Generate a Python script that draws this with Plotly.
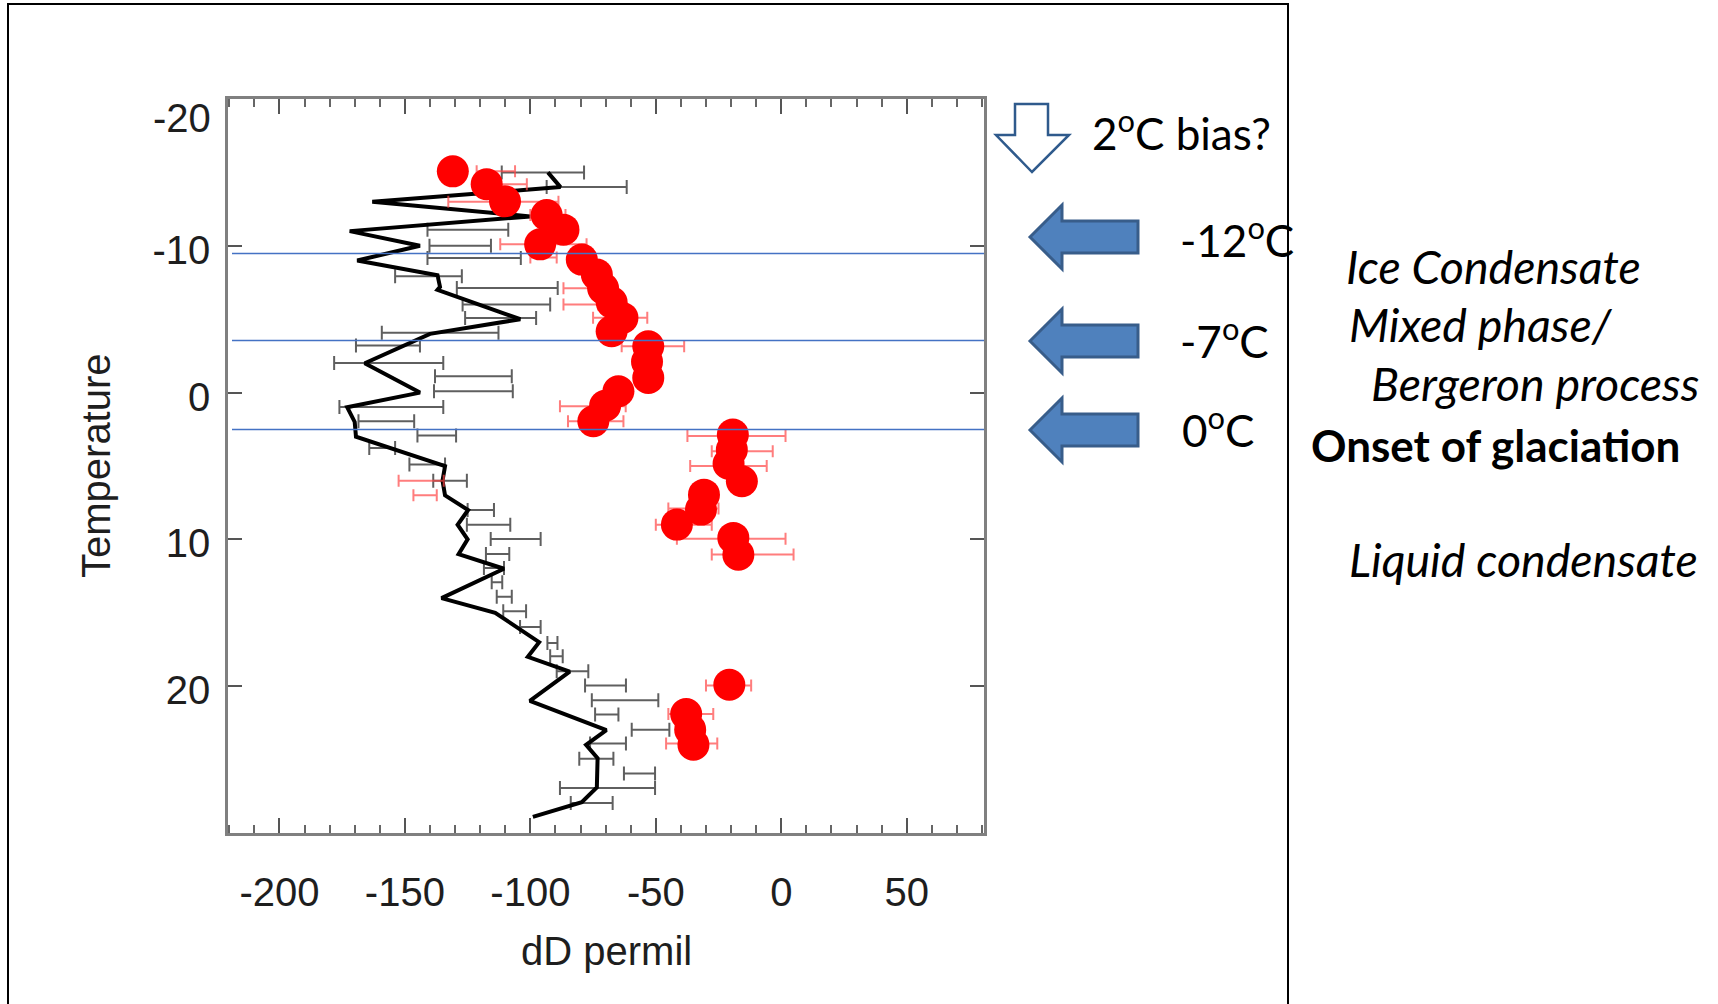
import plotly.graph_objects as go

# ---- profile data -------------------------------------------------------
# black model profile: temperature (deg C) and dD (permil) at its vertices
line_temp = [-15.0, -14.0, -13.0, -12.0, -11.0, -10.0, -9.0, -8.0, -7.2, -7.0,
             -5.0, -4.0, -2.0, 0.0, 1.0, 2.0, 3.0, 5.0, 6.0, 7.0, 8.0, 9.0,
             10.0, 11.0, 12.0, 14.0, 15.0, 16.5, 17.0, 18.0, 19.0, 21.0,
             23.0, 24.0, 24.9, 26.9, 27.9, 28.9]
line_dD = [-93, -88, -163, -100, -172, -144, -169, -137, -136, -137,
           -104, -140, -166, -144, -173, -170, -169.5, -134, -135, -134, -124.8, -129,
           -125, -128.6, -110.5, -135.4, -114, -101, -96.5, -101, -84.3, -100.2,
           -69.7, -77.8, -73.2, -73.5, -79.5, -99]

# grey ranges around the profile
gbar_temp = [-15.0, -14.0, -11.1, -10.0, -9.17, -7.92, -7.13, -6.0, -5.09, -4.07,
             -3.2, -2.02, -1.11, -0.09, 0.98, 1.95, 2.93, 3.77, 4.9, 6.0,
             8.0, 9.0, 9.97, 11.0, 11.94, 12.92, 13.9, 14.9, 15.96, 17.05,
             17.96, 18.98, 19.96, 20.96, 21.93, 22.96, 23.9, 24.95, 25.95, 26.93, 27.95]
gbar_lo = [-111.4, -93.5, -141, -140.2, -141, -153.9, -129.3, -127, -126, -159.2,
           -169.5, -178.2, -138, -138.4, -176.1, -168.5, -145, -164.2, -148.2, -138.7,
           -125, -125.3, -115.8, -117.7, -118.5, -115.4, -113.4, -110.8, -104.1, -93.2,
           -92.1, -89.5, -78.2, -75.5, -74.2, -59.6, -76.2, -80.5, -62.7, -88.2, -83.9]
gbar_hi = [-78.6, -61.6, -108.8, -115.7, -103.8, -127.3, -89.1, -92.1, -97.7, -112.7,
           -144, -134.7, -107.4, -107, -134.7, -146.3, -129.6, -153.9, -134, -125.3,
           -114.5, -108, -95.9, -108.4, -110.5, -111.2, -107.4, -101.7, -95.9, -89.2,
           -87.1, -76.9, -61.9, -49, -64.9, -44.6, -61.9, -66.9, -50.3, -50.3, -67.2]

# red observations
dot_temp = [-15.07, -14.2, -13.03, -12.1, -11.1, -10.1, -9.06, -8.04, -7.1, -6.15,
            -5.09, -4.18, -3.15, -2.1, -1.0, -0.09, 0.9, 1.95, 2.86, 3.9,
            4.85, 6.04, 6.95, 7.97, 8.99, 9.9, 11.04, 19.9, 21.9, 22.96, 23.98]
dot_dD = [-130.9, -117.4, -110.1, -93.5, -86.8, -96.1, -79.5, -73.5, -71, -67.6,
          -63.3, -67.6, -53, -53.5, -53, -64.9, -70.2, -74.9, -19.3, -19.7,
          -21, -15.7, -30.8, -32, -41.6, -19.1, -17.1, -20.7, -37.9, -36.3, -35]

# red ranges
rbar_temp = [-15.07, -14.2, -13.0, -12.1, -10.1, -9.2, -7.1, -6.0, -5.1, -3.15,
             0.93, 1.95, 2.95, 4.0, 5.0, 6.0, 7.0, 7.9, 9.0, 9.95,
             11.03, 19.95, 21.9, 23.9]
rbar_lo = [-121.4, -121, -132.7, -100, -112, -100, -86.8, -86.8, -75, -63.6,
           -88.2, -85, -37.4, -27.7, -36.3, -152.5, -146.6, -45, -50, -41.6,
           -27.7, -30, -45, -45.9]
rbar_hi = [-106.1, -101.4, -88.8, -86, -77.6, -89.5, -75, -73, -53.4, -38.7,
           -62, -62.9, 1.7, -3.4, -5.8, -134.5, -137.3, -25, -27.7, 1.7,
           4.9, -12, -27.1, -25.5]

# temperature levels marked across the panel
level_temp = [-9.48, -3.55, 2.51]

x_ticks = [-200, -150, -100, -50, 0, 50]
y_ticks = [-20, -10, 0, 10, 20]

# ---- page geometry (pixels) ---------------------------------------------
W, H = 1718, 1004
PL, PR, PT, PB = 228, 984, 99, 833


def fx(px):
    return (px - PL) / (PR - PL)


def fy(py):
    return (PB - py) / (PB - PT)


def mid_half(lo, hi):
    mids = [(a + b) / 2 for a, b in zip(lo, hi)]
    halves = [(b - a) / 2 for a, b in zip(lo, hi)]
    return mids, halves


fig = go.Figure()

g_mid, g_half = mid_half(gbar_lo, gbar_hi)
fig.add_trace(go.Scatter(
    x=g_mid, y=gbar_temp, mode="markers",
    marker=dict(size=1, color="rgba(0,0,0,0)"),
    error_x=dict(type="data", array=g_half, symmetric=True,
                 color="rgba(55,55,55,0.8)", thickness=2, width=7),
    hoverinfo="skip"))

fig.add_trace(go.Scatter(
    x=line_dD, y=line_temp, mode="lines",
    line=dict(color="black", width=4), hoverinfo="skip"))

r_mid, r_half = mid_half(rbar_lo, rbar_hi)
fig.add_trace(go.Scatter(
    x=r_mid, y=rbar_temp, mode="markers",
    marker=dict(size=1, color="rgba(0,0,0,0)"),
    error_x=dict(type="data", array=r_half, symmetric=True,
                 color="rgba(255,70,70,0.7)", thickness=2, width=6),
    hoverinfo="skip"))

fig.add_trace(go.Scatter(
    x=dot_dD, y=dot_temp, mode="markers",
    marker=dict(size=32, color="#ff0000", line=dict(width=0)),
    hoverinfo="skip"))

axis_font = dict(family="Liberation Sans, Arial, sans-serif", size=40, color="#1e1e1e")

fig.update_xaxes(
    range=[-220.5, 80.8], tickvals=x_ticks, ticktext=[str(v) for v in x_ticks],
    ticks="inside", ticklen=15, tickwidth=2, tickcolor="#555555",
    minor=dict(dtick=10, tick0=0, ticks="inside", ticklen=8, tickwidth=1.5, tickcolor="#666666"),
    showline=True, linecolor="#808080", linewidth=2.5, mirror="ticks",
    showgrid=False, zeroline=False, tickfont=axis_font, ticklabelstandoff=22)

# the top label of the temperature axis sits a little below its tick
y_text = ["" if v == y_ticks[0] else str(v) for v in y_ticks]
fig.update_yaxes(
    range=[30, -20], tickvals=y_ticks, ticktext=y_text,
    ticks="inside", ticklen=14, tickwidth=2, tickcolor="#555555",
    showline=True, linecolor="#808080", linewidth=2.5, mirror="ticks",
    showgrid=False, zeroline=False, tickfont=axis_font, ticklabelstandoff=7,
    ticklabelshift=-4)

shapes = []

# frame around the panel
shapes.append(dict(type="path", xref="paper", yref="paper",
                   path=f"M {fx(8)},{fy(1030)} L {fx(8)},{fy(4)} L {fx(1288)},{fy(4)} L {fx(1288)},{fy(1030)}",
                   line=dict(color="black", width=2)))

# temperature level lines
for t in level_temp:
    shapes.append(dict(type="line", xref="paper", yref="y", x0=fx(232), x1=1.0,
                       y0=t, y1=t, line=dict(color="#4472c4", width=1.5), layer="above"))


# block arrows pointing left
def left_arrow(cy):
    tip, base, end = 1030, 1062, 1138
    hh, sh = 32, 16
    pts = [(tip, cy), (base, cy - hh), (base, cy - sh), (end, cy - sh),
           (end, cy + sh), (base, cy + sh), (base, cy + hh)]
    return "M " + " L ".join(f"{fx(x)},{fy(y)}" for x, y in pts) + " Z"


for cy in [237, 341, 430]:
    shapes.append(dict(type="path", xref="paper", yref="paper", path=left_arrow(cy),
                       fillcolor="#4f81bd", line=dict(color="#385d8a", width=3)))

# hollow arrow pointing down
down_pts = [(1015, 104), (1048, 104), (1048, 135), (1069, 135), (1032, 172),
            (996, 135), (1015, 135)]
shapes.append(dict(type="path", xref="paper", yref="paper",
                   path="M " + " L ".join(f"{fx(x)},{fy(y)}" for x, y in down_pts) + " Z",
                   fillcolor="white", line=dict(color="#2f5a8c", width=2.5)))

note_font = dict(family="Lato, Carlito, sans-serif", size=44, color="black")
italic_font = dict(family="Lato, Carlito, sans-serif", size=46.5, color="black")

notes = [
    ("2<sup>o</sup>C bias?", 1090, 131, note_font),
    ("-12<sup>o</sup>C", 1178, 238, note_font),
    ("-7<sup>o</sup>C", 1178, 338, note_font),
    ("0<sup>o</sup>C", 1180, 427, note_font),
    ("<i>Ice Condensate</i>", 1344, 266, italic_font),
    ("<i>Mixed phase/</i>", 1347, 324, italic_font),
    ("<i>Bergeron process</i>", 1369, 383, italic_font),
    ("<b>Onset of glaciation</b>", 1309, 445, note_font),
    ("<i>Liquid condensate</i>", 1347, 559, italic_font),
]
annotations = []
for text, px, py, fnt in notes:
    annotations.append(dict(text=text, xref="paper", yref="paper", x=fx(px), y=fy(py),
                            xanchor="left", yanchor="middle", showarrow=False, font=fnt))

annotations.append(dict(text=str(y_ticks[0]), xref="paper", yref="paper", x=fx(213), y=fy(118),
                        xanchor="right", yanchor="middle", showarrow=False, font=axis_font))
annotations.append(dict(text="dD permil", xref="paper", yref="paper", x=fx(606), y=fy(951),
                        xanchor="center", yanchor="middle", showarrow=False, font=axis_font))
annotations.append(dict(text="Temperature", xref="paper", yref="paper", x=fx(96), y=fy(466),
                        xanchor="center", yanchor="middle", showarrow=False, textangle=-90,
                        font=axis_font))

fig.update_layout(
    width=W, height=H, autosize=False,
    margin=dict(l=PL, r=W - PR, t=PT, b=H - PB, pad=0),
    paper_bgcolor="white", plot_bgcolor="white",
    showlegend=False, shapes=shapes, annotations=annotations)

fig.write_html("out.html")
